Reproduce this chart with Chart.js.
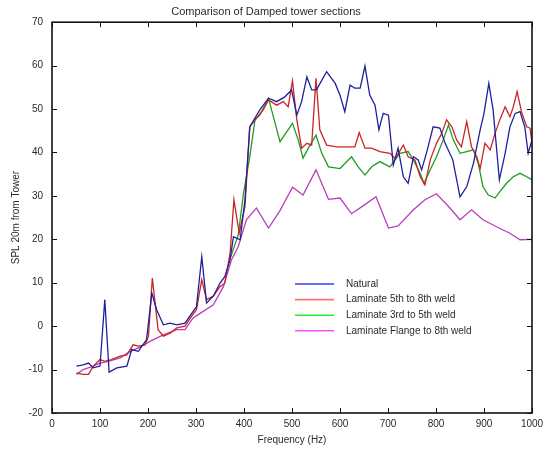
<!DOCTYPE html>
<html>
<head>
<meta charset="utf-8">
<script src="https://cdn.jsdelivr.net/npm/chart.js@4/dist/chart.umd.min.js"></script>
<style>
  html, body { margin: 0; padding: 0; background: #fff; }
  #wrap { width: 550px; height: 453px; }
</style>
</head>
<body>
<div id="wrap"><canvas id="spl_chart" width="550" height="453"></canvas></div>
<script>

// Natural
const freqNatural = [51, 65, 76, 86, 100, 110, 119, 135, 156, 166, 180, 197, 208, 218, 232, 246, 260, 277, 294, 301, 312, 322, 336, 350, 360, 371, 378, 392, 402, 412, 433, 451, 468, 485, 499, 510, 520, 531, 541, 551, 572, 590, 600, 610, 621, 631, 642, 652, 662, 673, 681, 690, 701, 711, 721, 732, 742, 753, 763, 770, 781, 794, 808, 819, 835, 850, 864, 878, 892, 900, 910, 919, 932, 944, 954, 965, 975, 985, 992, 1000];
const splNatural = [-9.2, -8.9, -8.5, -9.6, -9.2, 6.1, -10.6, -9.6, -9.2, -5.4, -5.8, -3.1, 7.6, 3.8, 0.3, 0.7, 0.3, 0.7, 3.4, 4.5, 16.0, 5.3, 6.9, 9.9, 11.4, 15.3, 20.6, 19.9, 29.1, 45.9, 49.8, 52.5, 51.7, 52.8, 54.4, 48.6, 51.7, 57.4, 54.4, 54.4, 58.6, 55.9, 53.2, 49.4, 55.5, 54.8, 54.8, 59.9, 53.2, 50.9, 45.2, 49.0, 48.6, 37.1, 41.0, 34.4, 32.9, 39.0, 38.3, 36.0, 40.2, 45.9, 45.6, 42.1, 38.3, 29.8, 32.1, 37.5, 45.2, 49.0, 55.9, 49.8, 33.7, 39.8, 45.9, 49.0, 49.4, 45.9, 39.8, 42.9];

// Laminate 5th to 8th weld
const freq5to8 = [51, 65, 76, 86, 100, 110, 124, 142, 156, 169, 180, 194, 201, 209, 221, 232, 246, 260, 277, 291, 301, 312, 322, 336, 350, 360, 371, 379, 390, 402, 412, 423, 440, 451, 468, 482, 492, 501, 510, 520, 531, 541, 550, 558, 572, 593, 614, 631, 640, 652, 666, 683, 704, 715, 732, 742, 756, 767, 777, 788, 801, 812, 822, 833, 843, 853, 864, 874, 885, 892, 902, 913, 923, 933, 944, 954, 961, 969, 978, 989, 996, 1000];
const spl5to8 = [-10.8, -11.1, -11.1, -9.2, -7.7, -8.1, -7.7, -6.9, -6.6, -4.3, -4.6, -4.3, -2.3, 11.1, -0.8, -2.3, -1.6, -0.4, 0, 2.3, 3.8, 10.7, 6.1, 6.9, 9.1, 9.9, 16.8, 29.1, 21.4, 27.5, 45.9, 47.5, 49.8, 52.1, 50.9, 51.7, 50.5, 56.5, 47.5, 41.0, 42.1, 41.7, 57.1, 45.2, 41.7, 41.3, 41.3, 41.3, 44.6, 41.0, 41.0, 40.2, 39.8, 38.6, 41.7, 39.0, 38.3, 34.4, 32.5, 38.3, 42.1, 44.4, 47.5, 45.9, 42.9, 41.3, 47.1, 41.3, 39.0, 36.3, 42.1, 40.6, 44.4, 47.5, 50.5, 48.2, 50.5, 54.0, 49.4, 45.9, 45.6, 42.1];

// Laminate 3rd to 5th weld
const freq3to5 = [371, 388, 399, 412, 423, 433, 451, 475, 501, 513, 523, 534, 550, 562, 576, 600, 624, 638, 652, 666, 683, 704, 725, 742, 753, 767, 775, 788, 801, 815, 826, 836, 850, 864, 878, 888, 898, 909, 923, 933, 947, 961, 975, 989, 1000];
const spl3to5 = [15.5, 21.0, 30.6, 39.0, 47.5, 48.6, 52.5, 42.5, 46.7, 42.9, 38.7, 41.0, 44.0, 39.8, 36.7, 36.3, 39.0, 36.7, 34.8, 36.7, 37.9, 36.7, 39.8, 40.2, 38.3, 35.2, 32.9, 36.0, 39.0, 42.9, 46.3, 42.9, 39.8, 40.2, 40.6, 37.5, 32.1, 30.2, 29.5, 31.0, 32.9, 34.4, 35.2, 34.4, 33.7];

// Laminate Flange to 8th weld
const freqFlange = [51, 65, 86, 100, 117, 142, 163, 180, 204, 232, 260, 277, 294, 315, 336, 357, 374, 388, 405, 426, 451, 475, 501, 523, 550, 576, 600, 624, 648, 675, 701, 721, 753, 777, 801, 829, 850, 874, 898, 926, 954, 975, 1000];
const splFlange = [-11.1, -10.0, -9.2, -8.5, -8.1, -7.3, -5.8, -5.0, -3.5, -2.0, -0.8, -0.8, 1.9, 3.4, 4.9, 9.1, 15.3, 18.3, 24.5, 27.2, 22.6, 26.6, 32.0, 30.2, 36.0, 29.2, 29.5, 25.9, 27.7, 29.8, 22.6, 23.1, 26.8, 29.1, 30.5, 27.2, 24.5, 26.8, 24.5, 22.9, 21.4, 19.9, 20.0];

const seriesLabels = ["Natural", "Laminate 5th to 8th weld", "Laminate 3rd to 5th weld", "Laminate Flange to 8th weld"];
const xTicksMin = 0, xTicksMax = 1000, xStep = 100;
const yTicksMin = -20, yTicksMax = 70, yStep = 10;

const lineColors = ["#1f1f9c", "#cc2424", "#239a23", "#b83fb8"];
const legendColors = ["#3a3aff", "#ff7373", "#2ee82e", "#ff50ff"];

function pairs(xs, ys) {
    return xs.map((x, i) => ({ x: x, y: ys[i] }));
}

const textColor = "#2a2a2a";
const fontFamily = "'Liberation Sans', Arial, sans-serif";

// frame + inward ticks, like the original plot
const boxPlugin = {
    id: "boxTicks",
    afterDraw(chart) {
        const ctx = chart.ctx;
        const a = chart.chartArea;
        const xs = chart.scales.x, ys = chart.scales.y;
        ctx.save();
        ctx.strokeStyle = "#111";
        ctx.lineWidth = 1;
        ctx.beginPath();
        xs.ticks.forEach(t => {
            const px = Math.round(xs.getPixelForValue(t.value)) + 0.5;
            ctx.moveTo(px, a.bottom); ctx.lineTo(px, a.bottom - 5);
            ctx.moveTo(px, a.top); ctx.lineTo(px, a.top + 5);
        });
        ys.ticks.forEach(t => {
            const py = Math.round(ys.getPixelForValue(t.value)) + 0.5;
            ctx.moveTo(a.left, py); ctx.lineTo(a.left + 5, py);
            ctx.moveTo(a.right, py); ctx.lineTo(a.right - 5, py);
        });
        ctx.stroke();
        ctx.lineWidth = 1.6;
        ctx.strokeRect(a.left, a.top, a.right - a.left, a.bottom - a.top);
        ctx.restore();
    }
};

// legend sits inside the plot area
const insideLegend = {
    id: "insideLegend",
    afterDraw(chart) {
        const ctx = chart.ctx;
        const x0 = 295, y0 = 284, rowH = 15.6;
        ctx.save();
        ctx.font = "10px " + fontFamily;
        ctx.textBaseline = "middle";
        ctx.fillStyle = textColor;
        chart.data.datasets.forEach((ds, i) => {
            const y = y0 + i * rowH;
            ctx.strokeStyle = legendColors[i];
            ctx.lineWidth = 1.6;
            ctx.beginPath();
            ctx.moveTo(x0, y); ctx.lineTo(x0 + 39, y);
            ctx.stroke();
            ctx.fillText(ds.label, x0 + 51, y);
        });
        ctx.restore();
    }
};

const config_SPL = {
    type: "line",
    data: {
        datasets: [
            { label: seriesLabels[0], data: pairs(freqNatural, splNatural), borderColor: lineColors[0] },
            { label: seriesLabels[1], data: pairs(freq5to8, spl5to8), borderColor: lineColors[1] },
            { label: seriesLabels[2], data: pairs(freq3to5, spl3to5), borderColor: lineColors[2] },
            { label: seriesLabels[3], data: pairs(freqFlange, splFlange), borderColor: lineColors[3] }
        ]
    },
    options: {
        responsive: false,
        animation: false,
        layout: { padding: { left: 0, right: 18, top: 0, bottom: 0 } },
        elements: {
            line: { borderWidth: 1.3, tension: 0, fill: false },
            point: { radius: 0, hitRadius: 0 }
        },
        scales: {
            x: {
                type: "linear",
                min: xTicksMin,
                max: xTicksMax,
                grid: { display: false, drawTicks: false },
                border: { display: false },
                ticks: {
                    stepSize: xStep,
                    color: textColor,
                    padding: 5,
                    maxRotation: 0,
                    font: { family: fontFamily, size: 10 },
                    callback: (v) => String(v)
                },
                title: {
                    display: true,
                    text: "Frequency (Hz)",
                    color: textColor,
                    padding: { top: 0, bottom: 7 },
                    font: { family: fontFamily, size: 10 }
                },
                afterFit(scale) { scale.height = 40; }
            },
            y: {
                min: yTicksMin,
                max: yTicksMax,
                grid: { display: false, drawTicks: false },
                border: { display: false },
                ticks: {
                    stepSize: yStep,
                    color: textColor,
                    padding: 9,
                    font: { family: fontFamily, size: 10 },
                    callback: (v) => String(v)
                },
                title: {
                    display: true,
                    text: "SPL 20m from Tower",
                    color: textColor,
                    padding: { top: 10, bottom: 0 },
                    font: { family: fontFamily, size: 10 }
                },
                afterFit(scale) { scale.width = 52; }
            }
        },
        plugins: {
            legend: { display: false },
            tooltip: { enabled: false },
            title: {
                display: true,
                text: "Comparison of Damped tower sections",
                color: textColor,
                padding: { top: 5, bottom: 4 },
                font: { family: fontFamily, size: 11, weight: "normal" }
            }
        }
    },
    plugins: [boxPlugin, insideLegend]
};

const ctx_SPL = document.getElementById("spl_chart").getContext("2d");
const chart_SPL = new Chart(ctx_SPL, config_SPL);
</script>
</body>
</html>
